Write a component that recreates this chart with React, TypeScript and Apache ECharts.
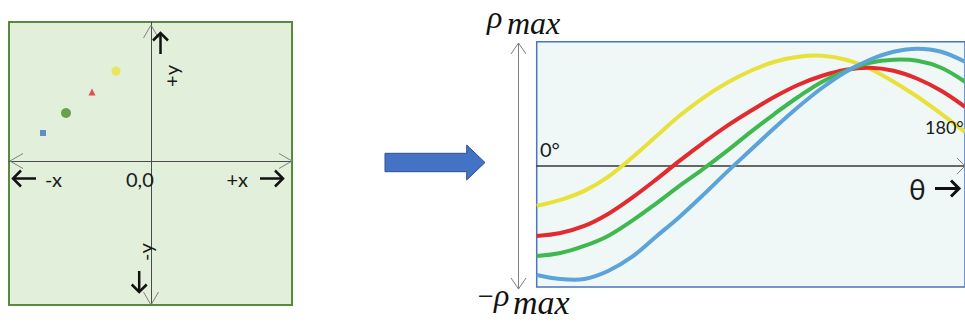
import React, { useEffect, useRef } from "react";
import * as echarts from "echarts";

// Left panel: image-space points (x, y), origin at 0,0
const pointNames = ["yellow", "red", "green", "blue"];
const pointX = [-35, -59, -85, -108];
const pointY = [90, 69, 48, 28];
const pointSymbols = ["circle", "triangle", "circle", "rect"];
const pointSizes = [9, 7, 10, 6];
const pointColors = ["#ece33c", "#dc2a28", "#4f8a30", "#4472c4"];

// Right panel: Hough curves, theta (deg) vs rho, read every 10 degrees
const thetaDeg = [0, 10, 20, 30, 40, 50, 60, 70, 80, 90, 100, 110, 120, 130, 140, 150, 160, 170, 180];
const yellowRho = [-40, -34, -25, -11, 8, 29, 50, 68, 83, 95, 104, 109, 110, 106, 97, 84, 69, 52, 34];
const redRho = [-70, -67, -60, -48, -32, -14, 5, 23, 40, 55, 69, 81, 90, 96, 98, 95, 87, 75, 59];
const greenRho = [-90, -87, -80, -70, -55, -38, -20, -3, 15, 34, 52, 69, 84, 95, 103, 106, 105, 98, 84];
const blueRho = [-109, -113, -113, -105, -91, -71, -51, -29, -6, 16, 38, 59, 78, 94, 106, 114, 117, 114, 104];
const curveNames = ["yellow", "red", "green", "blue"];
const curveColors = ["#e8e13a", "#e32a2e", "#3fb94f", "#5ca3d9"];

const zip = (a: number[], b: number[]) => a.map((v, i) => [v, b[i]]);

const FONT = "Lato";

export default function App() {
  const ref = useRef<HTMLDivElement>(null);
  useEffect(() => {
    document.body.style.margin = "0";
    const chart = echarts.init(ref.current!, null, { renderer: "svg" });
    const gray = "#808080";
    const chevron = (pts: number[][], color = gray, w = 1) => ({
      type: "polyline",
      shape: { points: pts },
      style: { stroke: color, lineWidth: w, fill: null },
      z: 10,
    });
    const text = (t: string, x: number, y: number, size: number, extra: any = {}) => ({
      type: "text",
      x,
      y,
      rotation: extra.rotation || 0,
      z: 10,
      style: {
        text: t,
        fontSize: size,
        fontFamily: extra.fontFamily || FONT,
        fontStyle: extra.fontStyle || "normal",
        fill: extra.fill || "#1a1a1a",
        align: extra.align || "left",
        verticalAlign: "middle",
      },
    });
    const serif = { fontFamily: "Liberation Serif", fontStyle: "italic", fill: "#111" };

    const curves = [
      zip(thetaDeg, yellowRho),
      zip(thetaDeg, redRho),
      zip(thetaDeg, greenRho),
      zip(thetaDeg, blueRho),
    ];

    chart.setOption({
      animation: false,
      grid: [
        {
          left: 536.7,
          right: -1,
          top: 41.7,
          bottom: 35,
          show: true,
          backgroundColor: "#eff7f7",
          borderColor: "#4a74c4",
          borderWidth: 1.5,
        },
        {
          left: 9,
          top: 22,
          width: 283,
          height: 283,
          show: true,
          backgroundColor: "#e2efda",
          borderColor: "#578a3a",
          borderWidth: 2,
        },
      ],
      xAxis: [
        {
          type: "value",
          gridIndex: 0,
          min: 0,
          max: 180,
          axisLine: { show: true, onZero: true, lineStyle: { color: "#3a3a3a", width: 1.5 } },
          axisTick: { show: false },
          axisLabel: { show: false },
          splitLine: { show: false },
        },
        {
          type: "value",
          gridIndex: 1,
          min: -142,
          max: 141,
          axisLine: { show: true, onZero: true, lineStyle: { color: "#4a4a4a", width: 1 } },
          axisTick: { show: false },
          axisLabel: { show: false },
          splitLine: { show: false },
        },
      ],
      yAxis: [
        {
          type: "value",
          gridIndex: 0,
          min: -121,
          max: 124,
          axisLine: { show: false },
          axisTick: { show: false },
          axisLabel: { show: false },
          splitLine: { show: false },
        },
        {
          type: "value",
          gridIndex: 1,
          min: -144,
          max: 139,
          axisLine: { show: true, onZero: true, lineStyle: { color: "#4a4a4a", width: 1 } },
          axisTick: { show: false },
          axisLabel: { show: false },
          splitLine: { show: false },
        },
      ],
      series: [
        ...curves.map((data, i) => ({
          type: "custom",
          name: curveNames[i],
          xAxisIndex: 0,
          yAxisIndex: 0,
          data,
          encode: { x: 0, y: 1 },
          clip: true,
          z: 3 + i,
          renderItem: (params: any, api: any) => {
            if (params.dataIndex !== 0) return null;
            const pts = data.map((d) => api.coord(d));
            return {
              type: "polyline",
              shape: { points: pts, smooth: 0.35 },
              style: { stroke: curveColors[i], lineWidth: 4, fill: "none" },
            };
          },
        })),
        {
          type: "scatter",
          xAxisIndex: 1,
          yAxisIndex: 1,
          data: pointNames.map((n, i) => ({
            name: n,
            value: [pointX[i], pointY[i]],
            symbol: pointSymbols[i],
            symbolSize: pointSizes[i],
            itemStyle: { color: pointColors[i] },
          })),
          z: 5,
        },
      ],
      graphic: [
        // left panel chevrons
        chevron([[23, 153.5], [10, 161], [23, 168.5]]),
        chevron([[279, 153.5], [292, 161], [279, 168.5]]),
        chevron([[143.5, 38], [151, 25], [158.5, 38]]),
        chevron([[143.5, 292], [151, 305], [158.5, 292]]),
        // bold arrows
        chevron([[13, 178.5], [36, 178.5]], "#111", 2.5),
        chevron([[21, 170.5], [13, 178.5], [21, 186.5]], "#111", 2.5),
        chevron([[260, 178.5], [283, 178.5]], "#111", 2.5),
        chevron([[275, 170.5], [283, 178.5], [275, 186.5]], "#111", 2.5),
        chevron([[160.5, 33], [160.5, 54]], "#111", 2.5),
        chevron([[153, 40.5], [160.5, 33], [168, 40.5]], "#111", 2.5),
        chevron([[139.2, 271], [139.2, 292]], "#111", 2.5),
        chevron([[131.7, 284.5], [139.2, 292], [146.7, 284.5]], "#111", 2.5),
        text("-x", 45, 179, 20),
        text("0,0", 126, 179, 20),
        text("+x", 226.5, 179, 20),
        text("+y", 171, 76, 20, { rotation: Math.PI / 2, align: "center" }),
        text("-y", 144.5, 252, 20, { rotation: Math.PI / 2, align: "center" }),
        // big blue arrow
        {
          type: "polygon",
          shape: {
            points: [
              [385, 153.3],
              [466.7, 153.3],
              [466.7, 145],
              [485, 162.5],
              [466.7, 180],
              [466.7, 171.7],
              [385, 171.7],
            ],
          },
          style: { fill: "#4472c4", stroke: "#2f528f", lineWidth: 1 },
        },
        // right panel vertical arrow
        chevron([[518.5, 43], [518.5, 289]]),
        chevron([[511, 54], [518.5, 43], [526, 54]]),
        chevron([[511, 278], [518.5, 289], [526, 278]]),
        // horizontal axis arrow head
        chevron([[957, 158], [965, 166], [957, 174]]),
        // theta arrow
        chevron([[935, 188.5], [959, 188.5]], "#111", 3),
        chevron([[951, 180.5], [959, 188.5], [951, 196.5]], "#111", 3),
        text("θ", 909, 189, 28),
        text("0°", 540, 149, 20),
        text("180°", 925, 127, 18),
        // rho max labels
        text("ρ", 487, 16.5, 32, serif),
        text("max", 507, 23, 32, serif),
        text("−", 477, 296, 21, { fontFamily: "DejaVu Serif" }),
        text("ρ", 494, 295.2, 32, serif),
        text("max", 513, 302.5, 34, serif),
      ],
    } as any);
    return () => chart.dispose();
  }, []);
  return <div ref={ref} style={{ width: 965, height: 322 }} />;
}
